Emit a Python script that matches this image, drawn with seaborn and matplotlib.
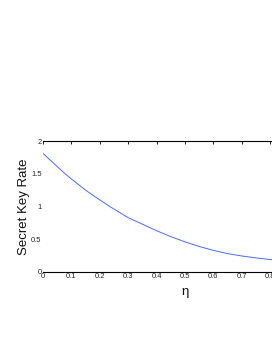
import matplotlib
matplotlib.use("Agg")
import matplotlib.pyplot as plt
import seaborn as sns
import pandas as pd

# curve
eta = [0.0, 0.025, 0.05, 0.075, 0.1, 0.125, 0.15, 0.175, 0.2, 0.25, 0.3,
       0.35, 0.4, 0.45, 0.5, 0.55, 0.6, 0.65, 0.7, 0.75, 0.8, 0.85, 0.9]
rate = [1.81, 1.71, 1.61, 1.51, 1.42, 1.335, 1.25, 1.175, 1.10, 0.96, 0.83,
        0.73, 0.63, 0.54, 0.46, 0.39, 0.33, 0.28, 0.245, 0.215, 0.19, 0.17, 0.155]
xticks = [0, 0.1, 0.2, 0.3, 0.4, 0.5, 0.6, 0.7, 0.8, 0.9, 1.0]
xticklabels = ["0", "0.1", "0.2", "0.3", "0.4", "0.5", "0.6", "0.7", "0.8", "0.9", "1"]
yticks = [0, 0.5, 1, 1.5, 2]
yticklabels = ["0", "0.5", "1", "1.5", "2"]

df = pd.DataFrame({"eta": eta, "rate": rate})

sns.set_style("white")
plt.rcParams['font.family'] = ['Liberation Sans', 'DejaVu Sans']

fig = plt.figure(figsize=(2.72, 3.52), dpi=100)
ax = fig.add_axes([43/272, 80/352, 284/272, 131/352])

sns.lineplot(data=df, x="eta", y="rate", ax=ax, color="#4a6cf7", linewidth=0.7)

ax.set_xlim(0, 1)
ax.set_ylim(0, 2)
ax.set_xticks(xticks)
ax.set_xticklabels(xticklabels, fontsize=5.5)
ax.set_yticks(yticks)
ax.set_yticklabels(yticklabels, fontsize=5.5)
ax.tick_params(direction="in", length=2, width=0.6, pad=1, top=True, right=True,
               colors="black", labelcolor="#222222")

ax.spines["top"].set_color("black")
ax.spines["bottom"].set_color("black")
ax.spines["top"].set_linewidth(0.8)
ax.spines["bottom"].set_linewidth(0.8)
ax.spines["left"].set_visible(False)
ax.spines["right"].set_visible(False)

ax.set_xlabel("\u03b7", fontsize=9.5, labelpad=4, color="#111111")
ax.set_ylabel("Secret Key Rate", fontsize=9.5, labelpad=1, color="#111111")

fig.savefig("out.png", dpi=100)
